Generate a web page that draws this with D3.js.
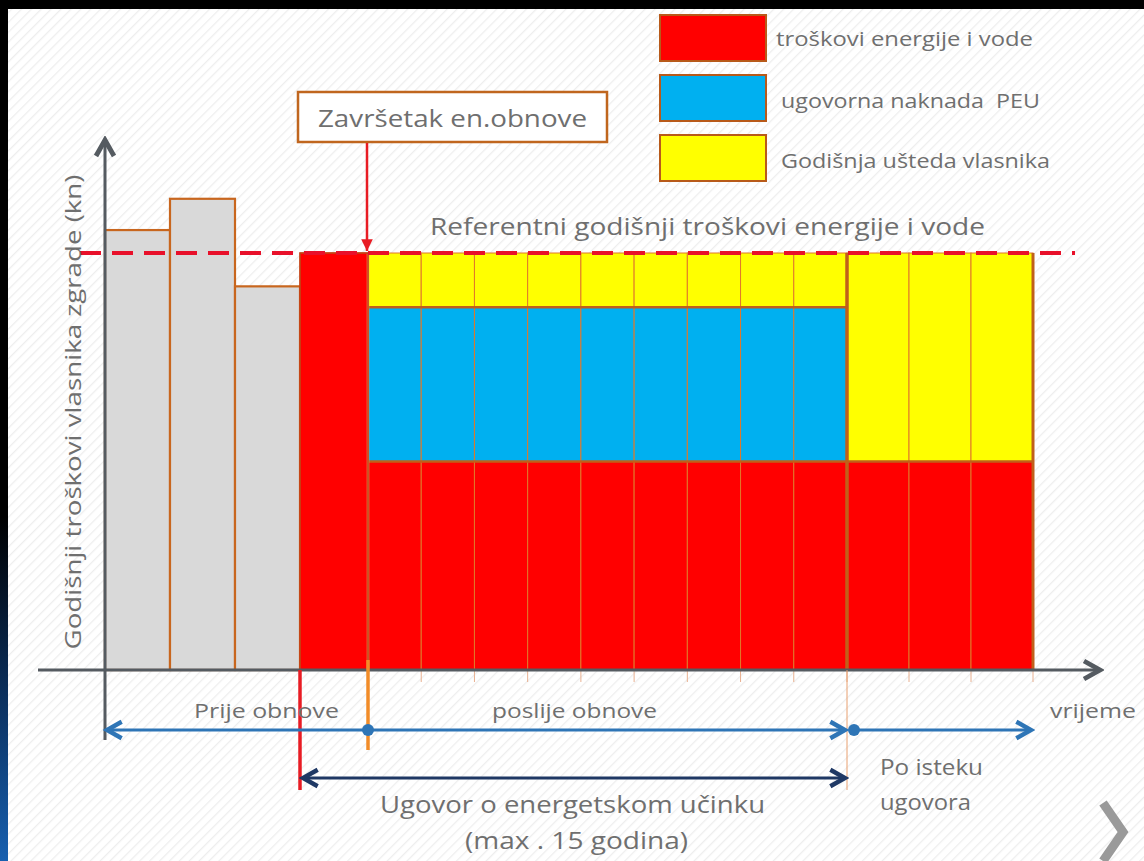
<!DOCTYPE html>
<html>
<head>
<meta charset="utf-8">
<script src="https://cdnjs.cloudflare.com/ajax/libs/d3/7.8.5/d3.min.js"></script>
<style>
  body { margin: 0; overflow: hidden; background: #fff; }
  svg { display: block; }
  text { font-family: "Open Sans", sans-serif; fill: #6f6f6f; white-space: pre; }
</style>
</head>
<body>
<script>
// values (reference cost = 100)
const referenceCost = 100;
const beforeCosts = [105.5, 113, 92];          // tri godine prije obnove
const renovationYearCost = 100;                // godina obnove
const contractEnergy = [50, 50, 50, 50, 50, 50, 50, 50, 50];
const contractFee    = [37, 37, 37, 37, 37, 37, 37, 37, 37];
const contractSaving = [13, 13, 13, 13, 13, 13, 13, 13, 13];
const afterEnergy = [50, 50, 50];
const afterSaving = [50, 50, 50];

const legendLabels = ["troškovi energije i vode", "ugovorna naknada  PEU", "Godišnja ušteda vlasnika"];
const legendKeys = ["energy", "fee", "saving"];
const colors = { energy: "#ff0000", fee: "#00b0f0", saving: "#ffff00", before: "#d9d9d9" };

const width = 1144, height = 861;

// x: year index, piecewise (before | renovation | contract | after)
const x = d3.scaleLinear()
  .domain([0, 3, 4, 13, 16])
  .range([105, 300, 368, 847, 1033]);
const y = d3.scaleLinear().domain([0, referenceCost]).range([670, 253]);

const svg = d3.select("body").append("svg")
  .attr("width", width).attr("height", height);

const defs = svg.append("defs");
const hatch = defs.append("pattern").attr("id", "hatch")
  .attr("width", 7).attr("height", 7)
  .attr("patternUnits", "userSpaceOnUse")
  .attr("patternTransform", "rotate(45)");
hatch.append("rect").attr("width", 7).attr("height", 7).attr("fill", "#fff");
hatch.append("line").attr("x1", 0).attr("y1", 0).attr("x2", 0).attr("y2", 7)
  .attr("stroke", "#eeeeee").attr("stroke-width", 2.5);

const edge = defs.append("linearGradient").attr("id", "edge")
  .attr("x1", 0).attr("y1", 0).attr("x2", 0).attr("y2", 1);
edge.append("stop").attr("offset", "0.6").attr("stop-color", "#000");
edge.append("stop").attr("offset", "0.8").attr("stop-color", "#0b2e5a");
edge.append("stop").attr("offset", "1").attr("stop-color", "#1760b0");

function marker(id, color, size) {
  defs.append("marker").attr("id", id)
    .attr("viewBox", "0 0 12 12").attr("refX", 10).attr("refY", 6)
    .attr("markerUnits", "userSpaceOnUse")
    .attr("markerWidth", size).attr("markerHeight", size)
    .attr("orient", "auto-start-reverse")
    .append("path").attr("d", "M2,1.5 L10,6 L2,10.5")
    .attr("fill", "none").attr("stroke", color).attr("stroke-width", 2.4)
    .attr("stroke-linejoin", "miter");
}
marker("axisArrow", "#555b61", 24);
marker("blueArrow", "#2e75b6", 22);
marker("navyArrow", "#1f3864", 22);
defs.append("marker").attr("id", "redArrow")
  .attr("viewBox", "0 0 12 12").attr("refX", 11).attr("refY", 6)
  .attr("markerUnits", "userSpaceOnUse")
  .attr("markerWidth", 14).attr("markerHeight", 14)
  .attr("orient", "auto")
  .append("path").attr("d", "M1,1 L11,6 L1,11 Z").attr("fill", "#e81c24");

// text helper: stretched to the length seen in the picture
function label(g, str, tx, ty, size, len, anchor) {
  return g.append("text").attr("x", tx).attr("y", ty)
    .attr("font-size", size).attr("text-anchor", anchor || "start")
    .attr("textLength", len).attr("lengthAdjust", "spacingAndGlyphs")
    .text(str);
}

// background
svg.append("rect").attr("width", width).attr("height", height).attr("fill", "url(#hatch)");
svg.append("rect").attr("width", width).attr("height", 9).attr("fill", "#000");
svg.append("rect").attr("width", 8).attr("height", height).attr("fill", "url(#edge)");

// columns
const columns = [];
beforeCosts.forEach((v, i) => columns.push({ i, layers: [{ key: "before", y0: 0, y1: v }] }));
columns.push({ i: 3, layers: [{ key: "energy", y0: 0, y1: renovationYearCost }] });
function getCol(i) {
  let c = columns.find(c => c.i === i);
  if (!c) { c = { i, layers: [] }; columns.push(c); }
  return c;
}
const contractRows = contractEnergy.map((e, k) => ({ energy: e, fee: contractFee[k], saving: contractSaving[k] }));
d3.stack().keys(["energy", "fee", "saving"])(contractRows).forEach(s => {
  s.forEach((d, k) => getCol(4 + k).layers.push({ key: s.key, y0: d[0], y1: d[1] }));
});
const afterRows = afterEnergy.map((e, k) => ({ energy: e, saving: afterSaving[k] }));
d3.stack().keys(["energy", "saving"])(afterRows).forEach(s => {
  s.forEach((d, k) => getCol(13 + k).layers.push({ key: s.key, y0: d[0], y1: d[1] }));
});

const cells = columns.flatMap(c => c.layers.map(l => Object.assign({ i: c.i }, l)));
svg.append("g").selectAll("rect").data(cells).join("rect")
  .attr("x", d => x(d.i))
  .attr("width", d => x(d.i + 1) - x(d.i))
  .attr("y", d => y(d.y1))
  .attr("height", d => y(d.y0) - y(d.y1))
  .attr("fill", d => colors[d.key])
  .attr("stroke", d => d.key === "before" ? "#c8661e" : "#e0782a")
  .attr("stroke-width", d => d.key === "before" ? 2.2 : 1);

// layer separators and block outlines
const sep = svg.append("g").attr("stroke", "#c0601a").attr("fill", "none");
sep.append("line").attr("x1", x(4)).attr("x2", x(13))
  .attr("y1", y(contractEnergy[0])).attr("y2", y(contractEnergy[0])).attr("stroke-width", 2.5);
sep.append("line").attr("x1", x(4)).attr("x2", x(13))
  .attr("y1", y(contractEnergy[0] + contractFee[0])).attr("y2", y(contractEnergy[0] + contractFee[0])).attr("stroke-width", 2.5);
sep.append("line").attr("x1", x(13)).attr("x2", x(16))
  .attr("y1", y(afterEnergy[0])).attr("y2", y(afterEnergy[0])).attr("stroke-width", 2.5);
sep.append("line").attr("x1", x(13)).attr("x2", x(13)).attr("y1", y(referenceCost)).attr("y2", y(0)).attr("stroke-width", 3.5);
sep.append("line").attr("x1", x(16)).attr("x2", x(16)).attr("y1", y(referenceCost)).attr("y2", y(0)).attr("stroke-width", 3);
sep.append("line").attr("x1", x(4)).attr("x2", x(4)).attr("y1", y(referenceCost)).attr("y2", y(0))
  .attr("stroke", "#f0a060").attr("stroke-width", 2.5);
sep.append("rect").attr("x", x(3)).attr("y", y(renovationYearCost))
  .attr("width", x(4) - x(3)).attr("height", y(0) - y(renovationYearCost))
  .attr("stroke", "#c03a10").attr("stroke-width", 1.5);

// reference dashed line
svg.append("line").attr("x1", 80).attr("x2", 1075)
  .attr("y1", y(referenceCost)).attr("y2", y(referenceCost))
  .attr("stroke", "#e8102a").attr("stroke-width", 4)
  .attr("stroke-dasharray", "21,11");
label(svg, "Referentni godišnji troškovi energije i vode", 430, 235, 23, 555);

// x ticks
svg.append("g").selectAll("line").data(d3.range(4, 17)).join("line")
  .attr("x1", d => x(d)).attr("x2", d => x(d))
  .attr("y1", y(0)).attr("y2", y(0) + 12)
  .attr("stroke", "#e8b090").attr("stroke-width", 1);

// axes
svg.append("line").attr("x1", 105).attr("x2", 105).attr("y1", 740).attr("y2", 140)
  .attr("stroke", "#555b61").attr("stroke-width", 3).attr("marker-end", "url(#axisArrow)");
svg.append("line").attr("x1", 38).attr("x2", 1100).attr("y1", y(0)).attr("y2", y(0))
  .attr("stroke", "#555b61").attr("stroke-width", 3).attr("marker-end", "url(#axisArrow)");

label(svg.append("g").attr("transform", "translate(81,412) rotate(-90)"),
  "Godišnji troškovi vlasnika zgrade (kn)", 0, 0, 22, 475, "middle");

// milestone lines
svg.append("line").attr("x1", x(3)).attr("x2", x(3)).attr("y1", y(0)).attr("y2", 790)
  .attr("stroke", "#e81c24").attr("stroke-width", 3.5);
svg.append("line").attr("x1", x(4)).attr("x2", x(4)).attr("y1", y(0) - 10).attr("y2", 750)
  .attr("stroke", "#f28c28").attr("stroke-width", 3.5);
svg.append("line").attr("x1", x(13)).attr("x2", x(13)).attr("y1", y(0)).attr("y2", 790)
  .attr("stroke", "#e8a070").attr("stroke-width", 1);

// period arrows
svg.append("line").attr("x1", x(0) + 2).attr("x2", x(13) - 2).attr("y1", 730).attr("y2", 730)
  .attr("stroke", "#2e75b6").attr("stroke-width", 3)
  .attr("marker-start", "url(#blueArrow)").attr("marker-end", "url(#blueArrow)");
svg.append("line").attr("x1", x(13) + 5).attr("x2", x(16) - 2).attr("y1", 730).attr("y2", 730)
  .attr("stroke", "#2e75b6").attr("stroke-width", 3).attr("marker-end", "url(#blueArrow)");
svg.append("g").selectAll("circle").data([4, 13]).join("circle")
  .attr("cx", d => x(d) + (d === 13 ? 7 : 0)).attr("cy", 730).attr("r", 6).attr("fill", "#2e75b6");
svg.append("line").attr("x1", x(3) + 3).attr("x2", x(13) - 2).attr("y1", 778).attr("y2", 778)
  .attr("stroke", "#1f3864").attr("stroke-width", 3)
  .attr("marker-start", "url(#navyArrow)").attr("marker-end", "url(#navyArrow)");

// period labels
label(svg, "Prije obnove", 194, 718, 20, 145);
label(svg, "poslije obnove", 492, 718, 20, 165);
label(svg, "vrijeme", 1050, 718, 20, 86);
label(svg, "Ugovor o energetskom učinku", 380, 813, 24, 385);
label(svg, "(max . 15 godina)", 465, 849, 23, 223);
label(svg, "Po isteku", 880, 775, 21, 103);
label(svg, "ugovora", 880, 810, 21, 91);

// renovation-end callout
svg.append("rect").attr("x", 298).attr("y", 92).attr("width", 309).attr("height", 50)
  .attr("fill", "#fff").attr("stroke", "#c0661e").attr("stroke-width", 2.5);
label(svg, "Završetak en.obnove", 318, 127, 23, 269);
svg.append("line").attr("x1", x(4) - 1).attr("x2", x(4) - 1).attr("y1", 143).attr("y2", y(referenceCost) - 2)
  .attr("stroke", "#e81c24").attr("stroke-width", 2.5).attr("marker-end", "url(#redArrow)");

// legend
const legendLen = [257, 259, 269];
const legend = svg.append("g").selectAll("g").data(legendKeys).join("g")
  .attr("transform", (d, k) => "translate(660," + (15 + k * 60) + ")");
legend.append("rect").attr("width", 106).attr("height", 46)
  .attr("fill", d => colors[d]).attr("stroke", "#b85a1a").attr("stroke-width", 2);
legend.each(function (d, k) {
  label(d3.select(this), legendLabels[k], k === 0 ? 116 : 121, k === 0 ? 31 : 33, 20, legendLen[k]);
});

// slide chevron
svg.append("path").attr("d", "M1103,803 L1123,832 L1103,861")
  .attr("fill", "none").attr("stroke", "#9a9a9a").attr("stroke-width", 9);
</script>
</body>
</html>
